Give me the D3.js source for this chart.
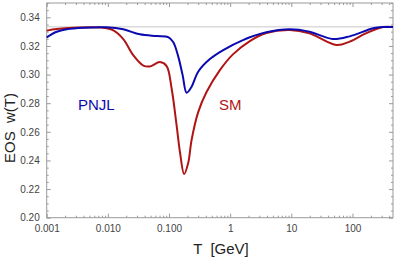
<!DOCTYPE html>
<html>
<head>
<meta charset="utf-8">
<script src="https://cdn.jsdelivr.net/npm/d3@7"></script>
<style>
  body { margin: 0; background: #fff; }
  svg { display: block; font-family: "Liberation Sans", Arial, sans-serif; }
</style>
</head>
<body>
<div id="chart"></div>
<script>
// temperatures in GeV (log axis)
var pnjlT = [0.001, 0.00146, 0.00212, 0.004, 0.0095, 0.0179, 0.0334, 0.0627, 0.097, 0.117, 0.141, 0.167, 0.194, 0.234, 0.300, 0.466, 0.77, 1.62, 3.9, 9.44, 19.8, 47.6, 90, 218, 316, 460];
var pnjlW = [0.326, 0.3299, 0.3316, 0.3327, 0.3330, 0.3316, 0.3281, 0.3269, 0.3262, 0.3227, 0.3129, 0.2996, 0.2873, 0.2915, 0.3020, 0.3108, 0.3171, 0.3241, 0.3295, 0.3316, 0.3299, 0.3248, 0.3267, 0.3323, 0.3332, 0.3332];

var smT = [0.001, 0.00146, 0.0027, 0.0084, 0.0123, 0.0179, 0.026, 0.038, 0.0486, 0.071, 0.0914, 0.110, 0.133, 0.151, 0.177, 0.206, 0.234, 0.300, 0.411, 0.679, 1.12, 2.10, 3.9, 9.44, 19.8, 54.8, 90, 165, 316, 460];
var smW = [0.3307, 0.3318, 0.3327, 0.3327, 0.3309, 0.3248, 0.3136, 0.3063, 0.3057, 0.3087, 0.3059, 0.2906, 0.2647, 0.2459, 0.2305, 0.2382, 0.2543, 0.2738, 0.2878, 0.3031, 0.3143, 0.3234, 0.3290, 0.3311, 0.3288, 0.3206, 0.3230, 0.3288, 0.3332, 0.3332];

var xTicks = [0.001, 0.01, 0.1, 1, 10, 100];
var xTickLabels = ['0.001', '0.010', '0.100', '1', '10', '100'];
var yTicks = [0.20, 0.22, 0.24, 0.26, 0.28, 0.30, 0.32, 0.34];
var conformal = 1 / 3;

var width = 399, height = 258;
var mLeft = 46.7, mRight = 393, mTop = 3, mBottom = 217.7;

var svg = d3.select('#chart').append('svg')
	.attr('width', width)
	.attr('height', height);

var x = d3.scaleLog().domain([0.001, 460]).range([mLeft, mRight]);
var y = d3.scaleLinear().domain([0.2, 0.35]).range([mBottom, mTop]);

// minor ticks
var xMinor = [];
for (var p = -3; p <= 2; p++) {
	for (var m = 2; m <= 9; m++) {
		var v = m * Math.pow(10, p);
		if (v < 460) xMinor.push(v);
	}
}
var yMinor = [];
for (var k = 0; k <= 30; k++) {
	if (k % 4 !== 0) yMinor.push(0.2 + k * 0.005);
}

var axisColor = '#999';

function styleAxis(g) {
	g.select('.domain').remove();
	g.selectAll('line').attr('stroke', axisColor);
	g.selectAll('text').attr('fill', '#444').style('font-size', '10px');
}

// bottom
svg.append('g').attr('transform', 'translate(0,' + mBottom + ')')
	.call(d3.axisBottom(x).tickValues(xTicks).tickSize(-4).tickPadding(7)
		.tickFormat(function(d, i){ return xTickLabels[i]; }))
	.call(styleAxis);
svg.append('g').attr('transform', 'translate(0,' + mBottom + ')')
	.call(d3.axisBottom(x).tickValues(xMinor).tickSize(-2).tickFormat(''))
	.call(styleAxis);
// top
svg.append('g').attr('transform', 'translate(0,' + mTop + ')')
	.call(d3.axisTop(x).tickValues(xTicks).tickSize(-4).tickFormat(''))
	.call(styleAxis);
svg.append('g').attr('transform', 'translate(0,' + mTop + ')')
	.call(d3.axisTop(x).tickValues(xMinor).tickSize(-2).tickFormat(''))
	.call(styleAxis);
// left
svg.append('g').attr('transform', 'translate(' + mLeft + ',0)')
	.call(d3.axisLeft(y).tickValues(yTicks).tickSize(-4).tickPadding(7).tickFormat(d3.format('.2f')))
	.call(styleAxis);
svg.append('g').attr('transform', 'translate(' + mLeft + ',0)')
	.call(d3.axisLeft(y).tickValues(yMinor).tickSize(-2).tickFormat(''))
	.call(styleAxis);
// right
svg.append('g').attr('transform', 'translate(' + mRight + ',0)')
	.call(d3.axisRight(y).tickValues(yTicks).tickSize(-4).tickFormat(''))
	.call(styleAxis);
svg.append('g').attr('transform', 'translate(' + mRight + ',0)')
	.call(d3.axisRight(y).tickValues(yMinor).tickSize(-2).tickFormat(''))
	.call(styleAxis);

// frame
svg.append('rect')
	.attr('x', mLeft).attr('y', mTop)
	.attr('width', mRight - mLeft).attr('height', mBottom - mTop)
	.attr('fill', 'none').attr('stroke', axisColor).attr('stroke-width', 1);

// w = 1/3 line
svg.append('line')
	.attr('x1', mLeft).attr('x2', mRight)
	.attr('y1', y(conformal)).attr('y2', y(conformal))
	.attr('stroke', '#c8c8c8').attr('stroke-width', 1);

var line = d3.line()
	.x(function(d){ return x(d[0]); })
	.y(function(d){ return y(d[1]); })
	.curve(d3.curveCatmullRom.alpha(0.5));

svg.append('path')
	.datum(d3.zip(smT, smW))
	.attr('d', line)
	.attr('fill', 'none').attr('stroke', '#b01515').attr('stroke-width', 2);

svg.append('path')
	.datum(d3.zip(pnjlT, pnjlW))
	.attr('d', line)
	.attr('fill', 'none').attr('stroke', '#0a0ab0').attr('stroke-width', 2);

// labels
svg.append('text').attr('x', 78).attr('y', 110)
	.attr('fill', '#0a0ab0').style('font-size', '15px').text('PNJL');
svg.append('text').attr('x', 219).attr('y', 110)
	.attr('fill', '#b01515').style('font-size', '15px').text('SM');

svg.append('text')
	.attr('x', 221).attr('y', 254)
	.attr('text-anchor', 'middle')
	.style('white-space', 'pre')
	.attr('fill', '#222').style('font-size', '15px')
	.text('T  [GeV]');

svg.append('text')
	.attr('transform', 'translate(15,128) rotate(-90)')
	.attr('text-anchor', 'middle')
	.style('white-space', 'pre')
	.attr('fill', '#222').style('font-size', '15px')
	.text('EOS  w(T)');
</script>
</body>
</html>
